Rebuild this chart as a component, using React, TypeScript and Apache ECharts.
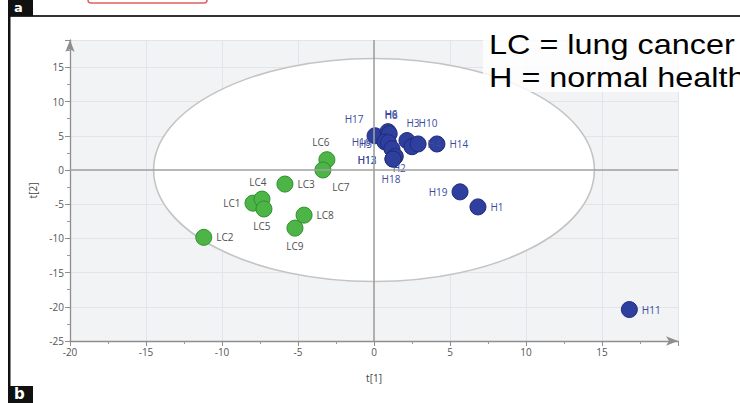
import React, { useEffect, useRef } from "react";
import * as echarts from "echarts";

// ---- data ----
const lcNames = ["LC1", "LC2", "LC3", "LC4", "LC5", "LC6", "LC7", "LC8", "LC9"];
const lcT1 = [-7.96, -11.2, -5.86, -7.37, -7.24, -3.1, -3.36, -4.6, -5.2];
const lcT2 = [-4.85, -9.85, -2.06, -4.26, -5.7, 1.5, 0.0, -6.6, -8.5];

const hNames = ["H17", "H6", "H8", "H16", "H5", "H3", "H10", "H4", "H14", "H13", "H2", "H12", "H18", "H19", "H1", "H11"];
const hT1 = [0.07, 0.92, 1.0, 0.72, 0.95, 2.17, 2.5, 2.9, 4.14, 1.18, 1.4, 1.25, 1.25, 5.66, 6.84, 16.8];
const hT2 = [5.0, 5.6, 5.3, 4.1, 4.0, 4.3, 3.4, 3.8, 3.8, 3.1, 2.0, 1.6, 1.6, -3.2, -5.4, -20.4];

// Hotelling ellipse: centre t1, centre t2, semi-axis t1, semi-axis t2
const ellipse = [[0, 0, 14.5, 16.3]];

const xTicks = { min: -20, max: 20, step: 5 };
const yTicks = { min: -25, max: 19, step: 5 };

// ---- label placement (style only) ----
const labelPlace: Record<string, { position: string; offset: [number, number] }> = {
  LC1: { position: "left", offset: [0, 0] },
  LC2: { position: "right", offset: [0, 0] },
  LC3: { position: "right", offset: [0, 0] },
  LC4: { position: "top", offset: [-4, 0] },
  LC5: { position: "bottom", offset: [-2, 0] },
  LC6: { position: "top", offset: [-6, 0] },
  LC7: { position: "bottom", offset: [18, 0] },
  LC8: { position: "right", offset: [0, 0] },
  LC9: { position: "bottom", offset: [0, 0] },
  H17: { position: "top", offset: [-21, 1] },
  H6: { position: "top", offset: [3, 0] },
  H8: { position: "top", offset: [2, -1] },
  H16: { position: "left", offset: [-2, 0] },
  H5: { position: "left", offset: [-4, 1] },
  H3: { position: "top", offset: [6, 0] },
  H10: { position: "top", offset: [16, -6] },
  H4: { position: "right", offset: [-3, 0] },
  H14: { position: "right", offset: [0, 0] },
  H13: { position: "left", offset: [-3, 11] },
  H2: { position: "bottom", offset: [4, -6] },
  H12: { position: "left", offset: [-4, 1] },
  H18: { position: "bottom", offset: [-2, 2] },
  H19: { position: "left", offset: [0, 0] },
  H1: { position: "right", offset: [0, 0] },
  H11: { position: "right", offset: [0, 0] },
};

const FONT = "'Open Sans', 'DejaVu Sans', sans-serif";

function makeData(names: string[], xs: number[], ys: number[], color: string) {
  return names.map((n, i) => {
    const p = labelPlace[n] || { position: "right", offset: [0, 0] };
    return {
      name: n,
      value: [xs[i], ys[i]],
      label: { show: true, position: p.position, offset: p.offset, color },
    };
  });
}

export default function App() {
  const ref = useRef<HTMLDivElement>(null);
  useEffect(() => {
    if (!ref.current) return;
    const chart = echarts.init(ref.current, undefined, { renderer: "svg" });
    const axisCommon = {
      type: "value",
      axisLine: {
        show: true,
        onZero: false,
        symbol: ["none", "arrow"],
        symbolSize: [7, 12],
        lineStyle: { color: "#8e8e8e", width: 1.3 },
      },
      axisTick: { show: true, length: 5, lineStyle: { color: "#8e8e8e" } },
      minorTick: { show: true, splitNumber: 2, length: 3, lineStyle: { color: "#9a9a9a" } },
      axisLabel: { showMaxLabel: false, color: "#555", fontSize: 10, fontFamily: FONT, margin: 6 },
      splitLine: { show: true, lineStyle: { color: "#e2e4e8", width: 1 } },
      nameTextStyle: { color: "#444", fontSize: 10, fontFamily: FONT },
    };
    chart.setOption({
      animation: false,
      backgroundColor: "#ffffff",
      grid: {
        left: 70,
        right: 62,
        top: 40,
        bottom: 62,
        show: true,
        backgroundColor: "#f2f3f5",
        borderWidth: 0,
      },
      xAxis: {
        ...axisCommon,
        min: xTicks.min,
        max: xTicks.max,
        interval: xTicks.step,
        name: "t[1]",
        nameLocation: "middle",
        nameGap: 32,
      },
      yAxis: {
        ...axisCommon,
        min: yTicks.min,
        max: yTicks.max,
        interval: yTicks.step,
        name: "t[2]",
        nameLocation: "middle",
        nameGap: 32,
      },
      series: [
        {
          type: "custom",
          z: 1,
          silent: true,
          data: ellipse,
          encode: { x: 0, y: 1 },
          renderItem: (params: any, api: any) => {
            const c = api.coord([api.value(0), api.value(1)]);
            const s = api.size([api.value(2), api.value(3)]);
            return {
              type: "ellipse",
              shape: { cx: c[0], cy: c[1], rx: s[0], ry: s[1] },
              style: { fill: "#ffffff", stroke: "#c4c4c4", lineWidth: 1.6 },
            };
          },
          markLine: {
            silent: true,
            symbol: ["none", "none"],
            label: { show: false },
            lineStyle: { color: "#a0a0a0", width: 1.6, type: "solid" },
            data: [{ xAxis: 0 }, { yAxis: 0 }],
          },
        },
        {
          type: "scatter",
          z: 3,
          symbolSize: 16,
          itemStyle: { color: "#4db548", borderColor: "#2f8f2c", borderWidth: 1, opacity: 1 },
          label: { show: true, formatter: "{b}", fontSize: 10, fontFamily: FONT, distance: 4 },
          data: makeData(lcNames, lcT1, lcT2, "#505050"),
        },
        {
          type: "scatter",
          z: 4,
          symbolSize: 16,
          itemStyle: { color: "#2e3f9e", borderColor: "#1f2c7c", borderWidth: 1, opacity: 1 },
          label: { show: true, formatter: "{b}", fontSize: 10, fontFamily: FONT, distance: 4 },
          data: makeData(hNames, hT1, hT2, "#3a4a9e"),
        },
      ],
      graphic: [
        // frame of the panel
        { type: "rect", shape: { x: 8, y: 15, width: 740, height: 2 }, style: { fill: "#333" }, silent: true },
        { type: "rect", shape: { x: 8, y: 0, width: 2.5, height: 403 }, style: { fill: "#111" }, silent: true },
        { type: "rect", shape: { x: 8, y: 0, width: 25, height: 16 }, style: { fill: "#111" }, silent: true },
        { type: "text", left: 14, top: 1, style: { text: "a", fill: "#fff", font: "bold 13px 'DejaVu Sans', sans-serif" }, silent: true },
        { type: "rect", shape: { x: 8, y: 386, width: 25, height: 20 }, style: { fill: "#111" }, silent: true },
        { type: "text", left: 14, top: 386, style: { text: "b", fill: "#fff", font: "bold 15px 'DejaVu Sans', sans-serif" }, silent: true },
        { type: "rect", shape: { x: 88, y: -20, width: 119, height: 23, r: 3 }, style: { fill: "none", stroke: "#e06060", lineWidth: 1.5 }, silent: true },
        // annotation (pasted with a white backing)
        { type: "rect", z: 50, shape: { x: 483, y: 22, width: 260, height: 70 }, style: { fill: "rgba(255,255,255,0.8)" }, silent: true },
        { type: "text", z: 51, x: 489, y: 31, scaleX: 1.2, style: { text: "LC = lung cancer", fill: "#000", font: "27px 'Liberation Sans', Arial, sans-serif" }, silent: true },
        { type: "text", z: 51, x: 489, y: 64, scaleX: 1.2, style: { text: "H = normal health", fill: "#000", font: "27px 'Liberation Sans', Arial, sans-serif" }, silent: true },
      ],
    });
    return () => chart.dispose();
  }, []);
  return <div ref={ref} style={{ position: "fixed", left: 0, top: 0, width: 740, height: 403 }} />;
}
